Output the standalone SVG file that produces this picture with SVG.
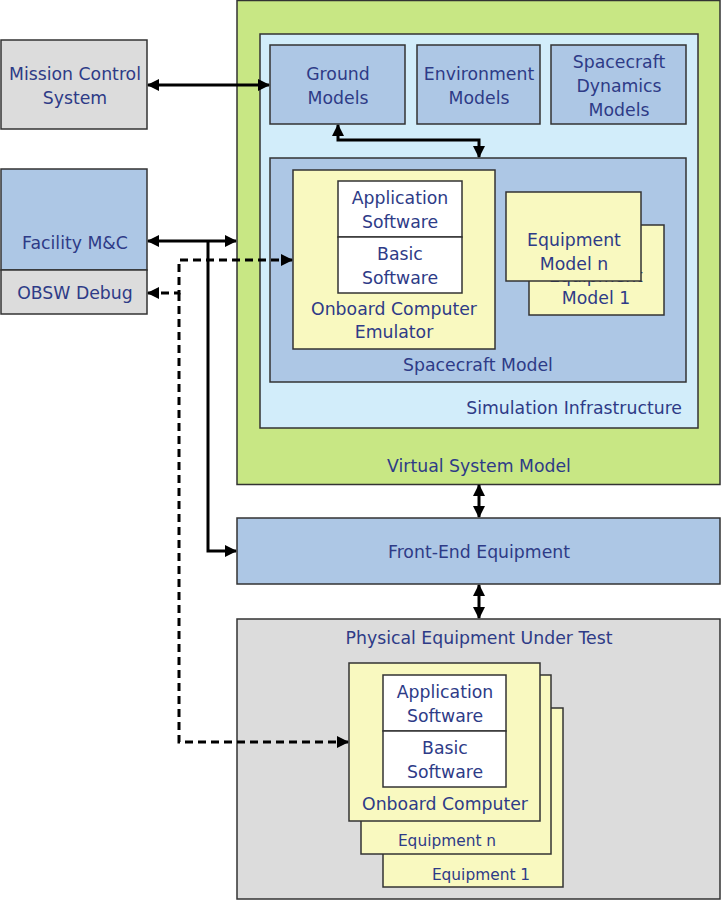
<svg xmlns="http://www.w3.org/2000/svg" width="721" height="900" viewBox="0 0 721 900">
<style>
.b{stroke:#333;stroke-width:1.5}
.gray{fill:#dcdcdc}
.green{fill:#c8e784}
.lblue{fill:#d2edfa}
.mblue{fill:#adc7e5}
.yel{fill:#f9f9c0}
.wht{fill:#fff}
text{font-family:"DejaVu Sans","Liberation Sans",sans-serif;font-size:17.3px;fill:#2e3b87;text-anchor:middle}
.sm{font-size:15.4px}
.c{fill:none;stroke:#000;stroke-width:3}
.d{fill:none;stroke:#000;stroke-width:3;stroke-dasharray:8 5}
</style>
<defs>
<marker id="ah" viewBox="0 0 12 12" refX="11" refY="6" markerWidth="12" markerHeight="12" markerUnits="userSpaceOnUse" orient="auto-start-reverse">
<path d="M0,0 L12,6 L0,12 z" fill="#000"/>
</marker>
<marker id="as" viewBox="0 0 12 12" refX="11" refY="6" markerWidth="12" markerHeight="12" markerUnits="userSpaceOnUse" orient="auto-start-reverse">
<path d="M0,0 L12,6 L0,12 z" fill="#000"/>
</marker>
</defs>

<g id="vsm">
<rect class="b green" x="237" y="0.5" width="483" height="484"/>
<text x="479" y="472">Virtual System Model</text>
</g>
<g id="sim-infra">
<rect class="b lblue" x="260" y="34" width="438" height="394"/>
<text x="682" y="414" style="text-anchor:end">Simulation Infrastructure</text>
</g>
<g id="ground-models">
<rect class="b mblue" x="270" y="45" width="135" height="79"/>
<text x="338" y="80">Ground</text>
<text x="338" y="104">Models</text>
</g>
<g id="env-models">
<rect class="b mblue" x="417" y="45" width="123" height="79"/>
<text x="479" y="80">Environment</text>
<text x="479" y="104">Models</text>
</g>
<g id="sc-dyn-models">
<rect class="b mblue" x="551" y="45" width="135" height="79"/>
<text x="619" y="68">Spacecraft</text>
<text x="619" y="92">Dynamics</text>
<text x="619" y="116">Models</text>
</g>
<g id="sc-model">
<rect class="b mblue" x="270" y="158" width="416" height="224"/>
<text x="478" y="371">Spacecraft Model</text>
</g>
<g id="obc-emulator">
<rect class="b yel" x="293" y="170" width="202" height="179"/>
<text x="394" y="315">Onboard Computer</text>
<text x="394" y="338">Emulator</text>
</g>
<g id="emu-app-sw">
<rect class="b wht" x="338" y="181" width="124" height="56"/>
<text x="400" y="204">Application</text>
<text x="400" y="228">Software</text>
</g>
<g id="emu-basic-sw">
<rect class="b wht" x="338" y="237" width="124" height="56"/>
<text x="400" y="260">Basic</text>
<text x="400" y="284">Software</text>
</g>
<g id="equip-model-1">
<rect class="b yel" x="529" y="225" width="135" height="90"/>
<text x="596" y="282">Equipment</text>
<text x="596" y="304">Model 1</text>
</g>
<g id="equip-model-n">
<rect class="b yel" x="506" y="192" width="135" height="89"/>
<text x="574" y="246">Equipment</text>
<text x="574" y="270">Model n</text>
</g>

<g id="mission-control">
<rect class="b gray" x="1" y="40" width="146" height="89"/>
<text x="75" y="80">Mission Control</text>
<text x="75" y="104">System</text>
</g>
<g id="facility-mc">
<rect class="b mblue" x="1" y="169" width="146" height="101"/>
<text x="75" y="249">Facility M&amp;C</text>
</g>
<g id="obsw-debug">
<rect class="b gray" x="1" y="270" width="146" height="44"/>
<text x="75" y="299">OBSW Debug</text>
</g>

<g id="front-end">
<rect class="b mblue" x="237" y="518" width="483" height="66"/>
<text x="479" y="558">Front-End Equipment</text>
</g>

<g id="physical-eut">
<rect class="b gray" x="237" y="619" width="483" height="280"/>
<text x="479" y="644">Physical Equipment Under Test</text>
</g>
<g id="equipment-1">
<rect class="b yel" x="383" y="708" width="180" height="179"/>
<text class="sm" x="481" y="880">Equipment 1</text>
</g>
<g id="equipment-n">
<rect class="b yel" x="361" y="675" width="190" height="179"/>
<text class="sm" x="447" y="846">Equipment n</text>
</g>
<g id="obc">
<rect class="b yel" x="349" y="663" width="191" height="158"/>
<text x="445" y="810">Onboard Computer</text>
</g>
<g id="obc-app-sw">
<rect class="b wht" x="383" y="675" width="123" height="56"/>
<text x="445" y="698">Application</text>
<text x="445" y="722">Software</text>
</g>
<g id="obc-basic-sw">
<rect class="b wht" x="383" y="731" width="123" height="56"/>
<text x="445" y="754">Basic</text>
<text x="445" y="778">Software</text>
</g>

<g id="connectors">
<path class="c" d="M148,85 H269" marker-start="url(#ah)" marker-end="url(#ah)"/>
<path class="c" d="M148,241 H236" marker-start="url(#ah)" marker-end="url(#ah)"/>
<path class="c" d="M208,241 V551 H236" marker-end="url(#ah)"/>
<path class="c" d="M338,125 V140 H479 V157" marker-start="url(#ah)" marker-end="url(#ah)"/>
<path class="c" d="M479,485 V517" marker-start="url(#as)" marker-end="url(#as)"/>
<path class="c" d="M479,585 V618" marker-start="url(#as)" marker-end="url(#as)"/>
<path class="d" d="M148,293 H179 V260 H292" marker-start="url(#ah)" marker-end="url(#ah)"/>
<path class="d" d="M179,293 V742 H348" marker-end="url(#ah)"/>
</g>
</svg>
